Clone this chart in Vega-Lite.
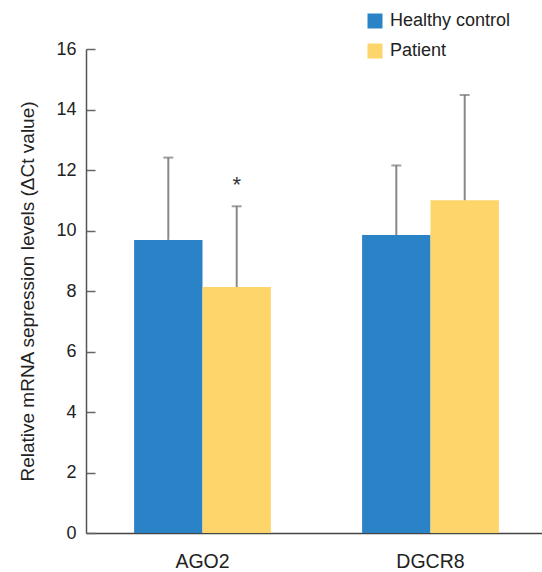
{
  "$schema": "https://vega.github.io/schema/vega-lite/v6.json",
  "autosize": "none",
  "width": 461,
  "height": 484,
  "padding": {"left": 86, "top": 49, "right": 0, "bottom": 39},
  "config": {
    "font": "Liberation Sans",
    "view": {"stroke": null},
    "axis": {"labelFont": "Liberation Sans", "titleFont": "Liberation Sans", "labelColor": "#222", "titleColor": "#222", "grid": false}
  },
  "data": {
    "values": [
      {"gene": "AGO2", "group": "Healthy control", "value": 9.69, "upper": 12.41, "sig": ""},
      {"gene": "AGO2", "group": "Patient", "value": 8.13, "upper": 10.8, "sig": "*"},
      {"gene": "DGCR8", "group": "Healthy control", "value": 9.85, "upper": 12.15, "sig": ""},
      {"gene": "DGCR8", "group": "Patient", "value": 11.0, "upper": 14.48, "sig": ""}
    ]
  },
  "encoding": {
    "x": {
      "field": "gene", "type": "nominal",
      "scale": {"paddingInner": 0.4, "paddingOuter": 0.211},
      "axis": {"title": null, "labelAngle": 0, "ticks": false, "labelFontSize": 19.5, "labelPadding": 19, "domainColor": "#444", "domainWidth": 1.5}
    },
    "xOffset": {"field": "group", "type": "nominal", "scale": {"paddingInner": 0, "paddingOuter": 0}}
  },
  "layer": [
    {
      "mark": {"type": "bar"},
      "encoding": {
        "y": {
          "field": "value", "type": "quantitative",
          "scale": {"domain": [0, 16], "nice": false},
          "axis": {"values": [0, 2, 4, 6, 8, 10, 12, 14, 16], "title": "Relative mRNA sepression levels (ΔCt value)", "titleFontSize": 19, "titleFontWeight": "normal", "titlePadding": 18, "labelFontSize": 18, "labelPadding": 19, "tickSize": -9, "tickColor": "#666", "tickWidth": 1.5, "domainColor": "#555", "domainWidth": 1.5}
        },
        "color": {
          "field": "group", "type": "nominal",
          "scale": {"domain": ["Healthy control", "Patient"], "range": ["#2A82C7", "#FDD56A"]},
          "legend": {"title": null, "orient": "none", "legendX": 280, "legendY": -37, "symbolType": "square", "symbolSize": 225, "symbolStrokeWidth": 0, "labelFontSize": 18, "labelColor": "#222", "labelOffset": 6, "rowPadding": 12}
        }
      }
    },
    {
      "mark": {"type": "rule", "color": "#888", "strokeWidth": 2},
      "encoding": {"y": {"field": "value", "type": "quantitative"}, "y2": {"field": "upper"}}
    },
    {
      "mark": {"type": "tick", "color": "#777", "thickness": 2, "size": 10, "orient": "horizontal"},
      "encoding": {"y": {"field": "upper", "type": "quantitative"}}
    },
    {
      "mark": {"type": "text", "fontSize": 22, "color": "#333", "dy": -21},
      "encoding": {"y": {"field": "upper", "type": "quantitative"}, "text": {"field": "sig"}}
    }
  ]
}
